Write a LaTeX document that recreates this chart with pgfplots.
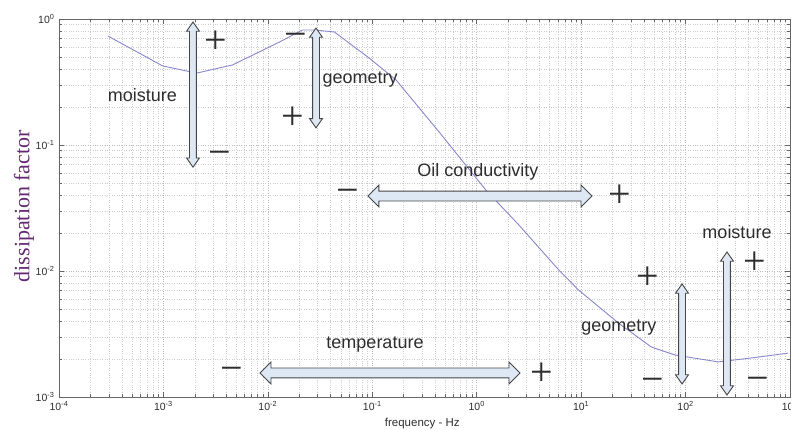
\documentclass[border=0pt]{standalone}
\usepackage{pgfplots}
\pgfplotsset{compat=1.18}
\usepackage{fontspec}
\setmainfont{Liberation Sans}
\newfontfamily\serif{Liberation Serif}
\usetikzlibrary{shapes.arrows,calc}

\definecolor{curve}{RGB}{135,135,205}
\definecolor{ylab}{RGB}{100,40,115}
\definecolor{arrfill}{RGB}{222,232,245}
\definecolor{arredge}{RGB}{70,70,70}
\definecolor{ink}{RGB}{45,45,45}

\tikzset{
  varr/.style={double arrow, draw=arredge, fill=arrfill, line width=0.9pt,
    inner sep=3pt, double arrow head extend=3pt, double arrow tip angle=70, rotate=90},
  harr/.style={double arrow, draw=arredge, fill=arrfill, line width=0.9pt,
    inner sep=4.5pt, double arrow head extend=6pt},
  lab/.style={font=\fontsize{18}{20}\selectfont, text=ink, inner sep=0pt},
  sgn/.style={font=\serif\fontsize{40}{40}\selectfont, text=ink, inner sep=0pt},
}

% double headed arrow between two named points
\newcommand\dblarrow[3]{%
  \path let \p1=(#2), \p2=(#3), \n1={veclen(\x2-\x1,\y2-\y1)} in
    node[#1, minimum height=\n1] at ($(#2)!0.5!(#3)$) {};}

\begin{document}
\begin{tikzpicture}
\begin{axis}[
  name=ax,
  scale only axis,
  width=731pt, height=378pt,
  clip mode=individual,
  xmode=log, ymode=log,
  log basis x=10, log basis y=10,
  xmin=1e-4, xmax=1e3, ymin=1e-3, ymax=1,
  xticklabel={10\textsuperscript{\pgfmathparse{int(round(\tick))}\pgfmathresult}},
  yticklabel={10\textsuperscript{\pgfmathparse{int(round(\tick))}\pgfmathresult}},
  ticklabel style={font=\fontsize{10.5}{12}\selectfont, text=ink},
  xticklabel style={yshift=-1pt},
  yticklabel style={xshift=-1pt},
  grid=both,
  major grid style={gray!55, dotted, line width=0.6pt},
  minor grid style={gray!40, dotted, line width=0.6pt},
  axis line style={gray!80!black, line width=0.9pt},
  tick style={gray!80!black, line width=0.6pt},
  major tick length=5pt, minor tick length=3pt,
]
\addplot[curve, line width=0.9pt, no marks] coordinates {
  (2.94e-4, 0.733)
  (9.84e-4, 0.424)
  (2.08e-3, 0.372)
  (4.59e-3, 0.432)
  (0.0129, 0.656)
  (0.0214, 0.818)
  (0.0279, 0.818)
  (0.0433, 0.789)
  (0.0933, 0.490)
  (0.169, 0.328)
  (0.436, 0.127)
  (1.22, 0.0440)
  (2.53, 0.0232)
  (6.10, 0.0102)
  (9.46, 0.00706)
  (22.8, 0.00386)
  (47.1, 0.00249)
  (80.0, 0.00215)
  (206, 0.00190)
  (425, 0.00204)
  (960, 0.00223)
};

% arrow end points
\coordinate (m1a) at (rel axis cs:0.1833,0.992);
\coordinate (m1b) at (rel axis cs:0.1833,0.608);
\coordinate (g1a) at (rel axis cs:0.3516,0.976);
\coordinate (g1b) at (rel axis cs:0.3516,0.712);
\coordinate (oa) at (rel axis cs:0.4227,0.5317);
\coordinate (ob) at (rel axis cs:0.7291,0.5317);
\coordinate (ta) at (rel axis cs:0.2750,0.0635);
\coordinate (tb) at (rel axis cs:0.6306,0.0635);
\coordinate (g2a) at (rel axis cs:0.8523,0.2989);
\coordinate (g2b) at (rel axis cs:0.8523,0.0344);
\coordinate (m2a) at (rel axis cs:0.9138,0.3836);
\coordinate (m2b) at (rel axis cs:0.9138,0.0053);

% labels
\node[lab] at (rel axis cs:0.1142,0.799) {moisture};
\node[lab] at (rel axis cs:0.4118,0.8386) {geometry};
\node[lab] at (rel axis cs:0.5732,0.595) {Oil conductivity};
\node[lab] at (rel axis cs:0.4323,0.1376) {temperature};
\node[lab] at (rel axis cs:0.7660,0.1825) {geometry};
\node[lab] at (rel axis cs:0.9275,0.4365) {moisture};

% signs
\node[sgn] at (rel axis cs:0.2148,0.939) {+};
\node[sgn] at (rel axis cs:0.2202,0.630) {−};
\node[sgn] at (rel axis cs:0.3242,0.944) {−};
\node[sgn] at (rel axis cs:0.3201,0.738) {+};
\node[sgn] at (rel axis cs:0.3953,0.532) {−};
\node[sgn] at (rel axis cs:0.7674,0.532) {+};
\node[sgn] at (rel axis cs:0.2367,0.0608) {−};
\node[sgn] at (rel axis cs:0.6607,0.0608) {+};
\node[sgn] at (rel axis cs:0.8058,0.3148) {+};
\node[sgn] at (rel axis cs:0.8126,0.0317) {−};
\node[sgn] at (rel axis cs:0.9521,0.3545) {+};
\node[sgn] at (rel axis cs:0.9562,0.0344) {−};

% axis titles
\node[rotate=90, text=ylab, font=\serif\fontsize{22}{24}\selectfont]
  at (axis description cs:-0.0479,0.505) {dissipation factor};
\node[text=ink, font=\fontsize{11.5}{13}\selectfont]
  at (axis description cs:0.497,-0.0714) {frequency - Hz};
\end{axis}

\dblarrow{varr}{m1a}{m1b}
\dblarrow{varr}{g1a}{g1b}
\dblarrow{harr}{oa}{ob}
\dblarrow{harr}{ta}{tb}
\dblarrow{varr}{g2a}{g2b}
\dblarrow{varr}{m2a}{m2b}

\pgfresetboundingbox
\path ([shift={(-59pt,-33pt)}]ax.south west) rectangle ([shift={(1pt,19pt)}]ax.north east);
\end{tikzpicture}
\end{document}
